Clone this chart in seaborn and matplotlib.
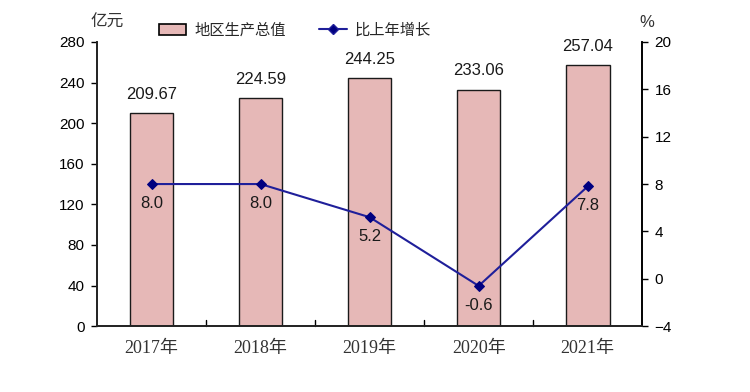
import matplotlib
matplotlib.use("Agg")
import matplotlib.pyplot as plt
import seaborn as sns
import pandas as pd
from matplotlib.lines import Line2D
from matplotlib.patches import Patch

years = ["2017年", "2018年", "2019年", "2020年", "2021年"]
gdp = [209.67, 224.59, 244.25, 233.06, 257.04]
growth = [8.0, 8.0, 5.2, -0.6, 7.8]
left_ticks = [0, 40, 80, 120, 160, 200, 240, 280]
right_ticks = [-4, 0, 4, 8, 12, 16, 20]

sns.set_theme(style="white")
plt.rcParams['font.family'] = ['Liberation Sans', 'Noto Sans CJK SC']

df = pd.DataFrame({"year": years, "gdp": gdp, "growth": growth})

fig = plt.figure(figsize=(7.5, 3.92), dpi=100)
ax = fig.add_axes([0.1293, 0.168, 0.727, 0.725])
bar_color = "#E6B8B7"
sns.barplot(data=df, x="year", y="gdp", ax=ax, color=bar_color, width=0.40,
            edgecolor="#1a1a1a", linewidth=1.0, saturation=1)
ax.set_xlim(-0.5, 4.5)
ax.set_ylim(0, 280)
ax.set_yticks(left_ticks)
ax.set_xlabel("")
ax.set_ylabel("")
ax.spines["top"].set_visible(False)
for s in ["left", "bottom", "right"]:
    ax.spines[s].set_color("black")
    ax.spines[s].set_linewidth(1.2)
ax.tick_params(axis="y", direction="out", length=4, width=1, colors="black",
               labelsize=11, left=True, pad=5)
ax.tick_params(axis="x", length=0, pad=10)
for lab in ax.get_xticklabels():
    lab.set_family(['Liberation Serif', 'Noto Sans CJK SC'])
    lab.set_fontsize(13)
    lab.set_color("#333333")
# minor ticks between categories pointing up
for xm in [0.5, 1.5, 2.5, 3.5]:
    ax.plot([xm, xm], [0, 6], color="black", lw=1, clip_on=False)
for i, v in enumerate(gdp):
    ax.text(i, v + 11, f"{v:.2f}", ha="center", va="bottom", fontsize=12, color="#1a1a1a")

ax2 = ax.twinx()
sns.lineplot(x=list(range(len(years))), y=growth, ax=ax2, color="#1F1F9A",
             marker="D", markersize=5, markerfacecolor="#000080",
             markeredgecolor="#000080", lw=1.5)
ax2.set_ylim(-4, 20)
ax2.set_yticks(right_ticks)
ax2.spines["top"].set_visible(False)
ax2.spines["right"].set_color("black")
ax2.spines["right"].set_linewidth(1.2)
ax2.tick_params(axis="y", direction="out", length=4, width=1, colors="black",
                labelsize=11, right=True, pad=5)
for i, v in enumerate(growth):
    ax2.text(i, v - 1.0, f"{v:.1f}", ha="center", va="top", fontsize=12, color="#1a1a1a")

fig.text(0.143, 0.943, "亿元", fontsize=12, color="#333333", ha="center", va="center",
         family=['Noto Sans CJK SC'])
fig.text(0.863, 0.943, "%", fontsize=12, color="#333333", ha="center", va="center")

handles = [Patch(facecolor=bar_color, edgecolor="black", linewidth=1.2),
           Line2D([0], [0], color="#1F1F9A", marker="D", markersize=5,
                  markerfacecolor="#000080", lw=1.5)]
fig.legend(handles, ["地区生产总值", "比上年增长"], loc="center",
           bbox_to_anchor=(0.393, 0.923), ncol=2, frameon=False,
           handlelength=1.8, handleheight=0.7, columnspacing=2.2, handletextpad=0.5,
           prop={'family': ['Noto Sans CJK SC'], 'size': 11})

fig.savefig("out.png", dpi=100)
